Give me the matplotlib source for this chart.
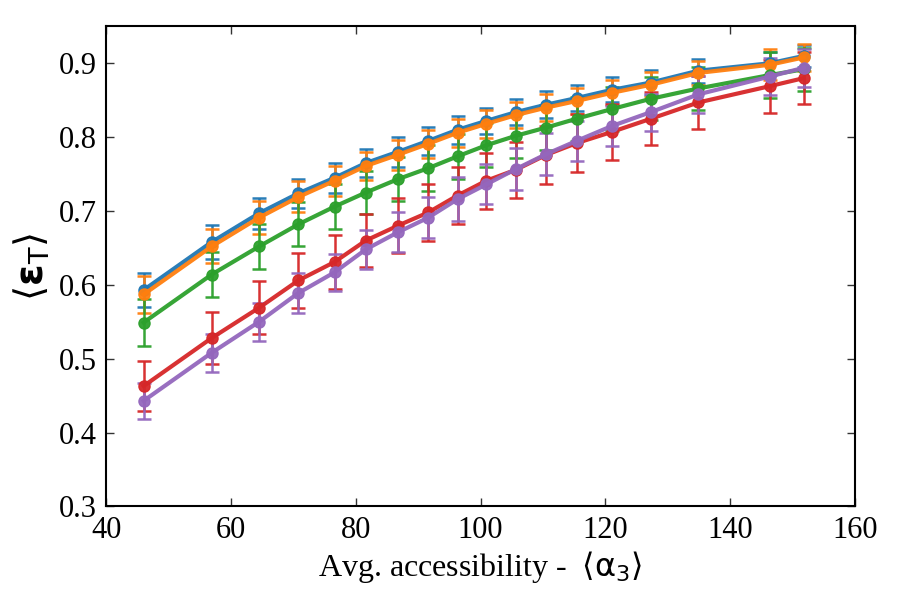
import numpy as np
import matplotlib
matplotlib.use('Agg')
import matplotlib.pyplot as plt

plt.rcParams['font.family'] = ['Liberation Serif', 'DejaVu Serif']
plt.rcParams['mathtext.fontset'] = 'dejavusans'

# avg. accessibility <alpha_3>
x = [46.0, 56.9, 64.5, 70.8, 76.6, 81.6, 86.7, 91.6, 96.3, 100.9,
     105.7, 110.5, 115.4, 121.0, 127.3, 134.9, 146.3, 151.8]

blue = [0.593, 0.658, 0.697, 0.724, 0.745, 0.765, 0.780, 0.795, 0.810, 0.822,
        0.834, 0.844, 0.853, 0.864, 0.874, 0.890, 0.900, 0.910]
orange = [0.587, 0.652, 0.691, 0.719, 0.741, 0.761, 0.776, 0.791, 0.806, 0.818,
          0.830, 0.840, 0.849, 0.860, 0.871, 0.887, 0.898, 0.908]
green = [0.549, 0.614, 0.652, 0.682, 0.706, 0.725, 0.743, 0.758, 0.774, 0.789,
         0.802, 0.813, 0.825, 0.838, 0.852, 0.866, 0.884, 0.892]
red = [0.463, 0.528, 0.569, 0.606, 0.631, 0.660, 0.680, 0.698, 0.721, 0.741,
       0.756, 0.776, 0.792, 0.807, 0.825, 0.847, 0.869, 0.880]
purple = [0.443, 0.508, 0.550, 0.589, 0.617, 0.648, 0.671, 0.691, 0.716, 0.736,
          0.757, 0.777, 0.795, 0.815, 0.834, 0.858, 0.882, 0.894]

blue_err = [0.023, 0.023, 0.021, 0.020, 0.020, 0.019, 0.020, 0.019, 0.019, 0.018,
            0.018, 0.018, 0.017, 0.017, 0.017, 0.016, 0.016, 0.015]
orange_err = [0.025, 0.023, 0.022, 0.021, 0.020, 0.019, 0.020, 0.019, 0.019, 0.019,
              0.018, 0.018, 0.018, 0.017, 0.017, 0.016, 0.021, 0.018]
green_err = [0.032, 0.031, 0.031, 0.030, 0.030, 0.029, 0.030, 0.031, 0.030, 0.030,
             0.030, 0.031, 0.030, 0.030, 0.029, 0.029, 0.031, 0.029]
red_err = [0.034, 0.035, 0.036, 0.037, 0.037, 0.036, 0.037, 0.038, 0.038, 0.038,
           0.038, 0.039, 0.039, 0.038, 0.036, 0.036, 0.036, 0.035]
purple_err = [0.024, 0.026, 0.026, 0.027, 0.025, 0.026, 0.027, 0.028, 0.030, 0.027,
              0.028, 0.028, 0.027, 0.027, 0.025, 0.025, 0.025, 0.026]

series = [
    (blue, blue_err, '#1f77b4'),
    (orange, orange_err, '#ff7f0e'),
    (green, green_err, '#2ca02c'),
    (red, red_err, '#d62728'),
    (purple, purple_err, '#9467bd'),
]

fig = plt.figure(figsize=(9, 6), dpi=100)
ax = fig.add_axes([0.118, 0.156, 0.832, 0.8])

for y, err, c in series:
    ax.errorbar(x, y, yerr=err, fmt='o-', color=c, linewidth=3, markersize=8,
                elinewidth=1.8, capsize=5, capthick=1.8, alpha=0.95)

ax.set_xlim(40, 160)
ax.set_ylim(0.3, 0.95)
ax.set_xticks([40, 60, 80, 100, 120, 140, 160])
ax.set_yticks([0.3, 0.4, 0.5, 0.6, 0.7, 0.8, 0.9])

ax.tick_params(direction='in', top=True, right=True, length=6, width=1,
               labelsize=22, pad=7, color='#333333')
for s in ax.spines.values():
    s.set_linewidth(1.5)

ax.set_xlabel(r'Avg. accessibility -  $\langle\mathrm{\alpha}_\mathrm{3}\rangle$',
              fontsize=23, labelpad=3)
ax.set_ylabel(r'$\langle\mathbf{\varepsilon}_\mathrm{T}\rangle$', fontsize=28, labelpad=4)

fig.savefig('out.png', dpi=100)
